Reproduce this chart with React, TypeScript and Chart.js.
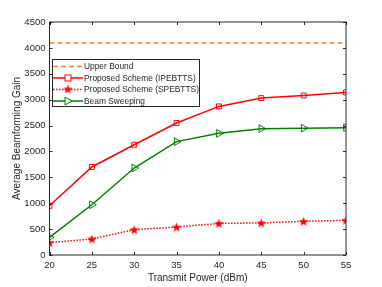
import React, { useEffect, useRef } from "react";
import { Chart, registerables } from "chart.js";
Chart.register(...registerables);

const powers = [20, 25, 30, 35, 40, 45, 50, 55];
const upperBound = [4096, 4096, 4096, 4096, 4096, 4096, 4096, 4096];
const ipebtts = [950, 1700, 2130, 2550, 2870, 3030, 3080, 3140];
const spebtts = [240, 310, 490, 540, 610, 620, 650, 670];
const beamSweeping = [340, 970, 1680, 2190, 2350, 2440, 2450, 2460];
const xTicks = [20, 25, 30, 35, 40, 45, 50, 55];
const yTicks = [0, 500, 1000, 1500, 2000, 2500, 3000, 3500, 4000, 4500];

const FONT = "'Liberation Sans', Arial, sans-serif";
const TXT = "#262626";
const RED = "#ff0000";
const GREEN = "#008000";
const ORANGE = "#ff7f1a";

function makeStar(size: number, color: string) {
  const c = document.createElement("canvas");
  c.width = size;
  c.height = size;
  const g = c.getContext("2d")!;
  const cx = size / 2, cy = size / 2 + 0.5, R = size / 2 - 0.5, r = R * 0.42;
  g.beginPath();
  for (let i = 0; i < 10; i++) {
    const a = -Math.PI / 2 + (i * Math.PI) / 5;
    const rr = i % 2 === 0 ? R : r;
    const px = cx + rr * Math.cos(a), py = cy + rr * Math.sin(a);
    if (i === 0) g.moveTo(px, py); else g.lineTo(px, py);
  }
  g.closePath();
  g.fillStyle = color;
  g.fill();
  return c;
}

export default function App() {
  const ref = useRef<HTMLCanvasElement>(null);
  useEffect(() => {
    const star = makeStar(11, RED);
    const toXY = (arr: number[]) => arr.map((v, i) => ({ x: powers[i], y: v }));
    const frame = {
      id: "frame",
      afterDatasetsDraw(chart: any) {
        const { ctx, chartArea: a, scales } = chart;
        ctx.save();
        ctx.strokeStyle = "#262626";
        ctx.lineWidth = 1;
        ctx.strokeRect(a.left, a.top, a.right - a.left, a.bottom - a.top);
        ctx.beginPath();
        const tl = 3;
        for (const t of xTicks) {
          const x = Math.round(scales.x.getPixelForValue(t)) + 0.5;
          ctx.moveTo(x, a.bottom); ctx.lineTo(x, a.bottom - tl);
          ctx.moveTo(x, a.top); ctx.lineTo(x, a.top + tl);
        }
        for (const t of yTicks) {
          const y = Math.round(scales.y.getPixelForValue(t)) + 0.5;
          ctx.moveTo(a.left, y); ctx.lineTo(a.left + tl, y);
          ctx.moveTo(a.right, y); ctx.lineTo(a.right - tl, y);
        }
        ctx.stroke();

        // legend
        const lx = 52, ly = 59, lw = 147, lh = 47;
        ctx.fillStyle = "#ffffff";
        ctx.fillRect(lx, ly, lw, lh);
        ctx.strokeStyle = "#262626";
        ctx.strokeRect(lx + 0.5, ly + 0.5, lw, lh);
        const items = [
          { label: "Upper Bound", color: ORANGE, dash: [5, 3], marker: "none" },
          { label: "Proposed Scheme (IPEBTTS)", color: RED, dash: [], marker: "square" },
          { label: "Proposed Scheme (SPEBTTS)", color: RED, dash: [1.5, 1.5], marker: "star" },
          { label: "Beam Sweeping", color: GREEN, dash: [], marker: "tri" },
        ];
        ctx.font = `8.4px ${FONT}`;
        ctx.textBaseline = "middle";
        items.forEach((it, i) => {
          const y = ly + 7.5 + i * 11.5;
          ctx.strokeStyle = it.color;
          ctx.lineWidth = 1.5;
          ctx.setLineDash(it.dash);
          ctx.beginPath();
          ctx.moveTo(lx + 1, y); ctx.lineTo(lx + 31, y);
          ctx.stroke();
          ctx.setLineDash([]);
          const mx = lx + 16;
          if (it.marker === "square") {
            ctx.fillStyle = "#fff";
            ctx.fillRect(mx - 3, y - 3, 6, 6);
            ctx.lineWidth = 1;
            ctx.strokeRect(mx - 3, y - 3, 6, 6);
          } else if (it.marker === "star") {
            ctx.drawImage(star, mx - 5.5, y - 6);
          } else if (it.marker === "tri") {
            ctx.fillStyle = "#fff";
            ctx.lineWidth = 1;
            ctx.beginPath();
            ctx.moveTo(mx - 3, y - 4); ctx.lineTo(mx + 4, y); ctx.lineTo(mx - 3, y + 4);
            ctx.closePath(); ctx.fill(); ctx.stroke();
          }
          ctx.fillStyle = TXT;
          ctx.fillText(it.label, lx + 32, y + 0.5);
        });
        ctx.restore();
      },
    };
    const chart = new Chart(ref.current!, {
      type: "line",
      data: {
        datasets: [
          { label: "Upper Bound", data: toXY(upperBound), borderColor: ORANGE, borderWidth: 1.5, borderDash: [5, 3], pointRadius: 0 },
          { label: "Proposed Scheme (IPEBTTS)", data: toXY(ipebtts), borderColor: RED, borderWidth: 1.5, pointStyle: "rect", pointRadius: 3.5, pointBorderWidth: 1, pointBackgroundColor: "rgba(255,255,255,0)", pointBorderColor: RED },
          { label: "Proposed Scheme (SPEBTTS)", data: toXY(spebtts), borderColor: RED, borderWidth: 1.5, borderDash: [1.5, 1.5], pointStyle: star as any, pointRadius: 5 },
          { label: "Beam Sweeping", data: toXY(beamSweeping), borderColor: GREEN, borderWidth: 1.5, pointStyle: "triangle", rotation: 90, pointRadius: 4.5, pointBorderWidth: 1, pointBackgroundColor: "rgba(255,255,255,0)", pointBorderColor: GREEN },
        ],
      },
      options: {
        animation: false,
        responsive: false,
        layout: { padding: { top: 22, right: 36, left: 0, bottom: 0 } },
        plugins: { legend: { display: false }, tooltip: { enabled: false } },
        scales: {
          x: {
            type: "linear", min: 20, max: 55,
            afterBuildTicks: (s: any) => { s.ticks = xTicks.map((v) => ({ value: v })); },
            afterFit: (s: any) => { s.height = 32; },
            grid: { display: false, drawTicks: false, tickLength: 0 },
            border: { display: false },
            ticks: { font: { family: FONT, size: 9.5 }, color: TXT, padding: 5, maxRotation: 0, callback: (v: any) => String(v) },
            title: { display: true, text: "Transmit Power (dBm)", font: { family: FONT, size: 10 }, color: TXT, padding: { top: 1, bottom: 3 } },
          },
          y: {
            min: 0, max: 4500,
            afterBuildTicks: (s: any) => { s.ticks = yTicks.map((v) => ({ value: v })); },
            afterFit: (s: any) => { s.width = 49.5; },
            grid: { display: false, drawTicks: false, tickLength: 0 },
            border: { display: false },
            ticks: { font: { family: FONT, size: 9.5 }, color: TXT, padding: 4, callback: (v: any) => String(v) },
            title: { display: true, text: "Average Beamforming Gain", font: { family: FONT, size: 10 }, color: TXT, padding: { top: 11, bottom: 0 } },
          },
        },
      },
      plugins: [frame],
    } as any);
    return () => chart.destroy();
  }, []);
  return (
    <div style={{ position: "fixed", left: 0, top: 0, width: 382, height: 287, background: "#fff" }}>
      <canvas ref={ref} width={382} height={287} style={{ width: 382, height: 287 }} />
    </div>
  );
}
